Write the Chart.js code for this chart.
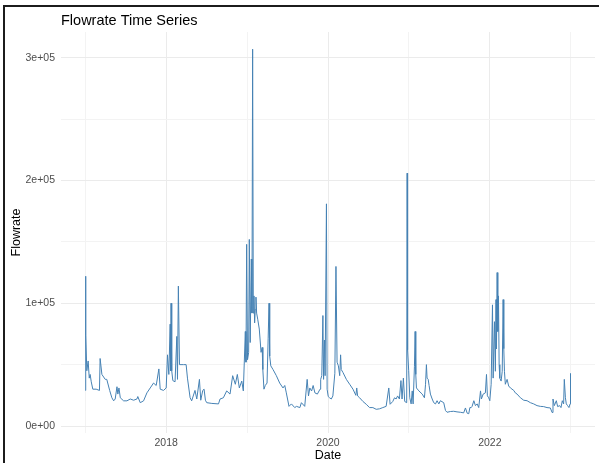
<!DOCTYPE html>
<html>
<head>
<meta charset="utf-8">
<title>Flowrate Time Series</title>
<script src="https://cdn.jsdelivr.net/npm/chart.js@4.4.0/dist/chart.umd.min.js"></script>
<style>
  html, body { margin: 0; padding: 0; background: #fff; }
  #wrap { position: relative; width: 599px; height: 463px; overflow: hidden; }
  #grafico { display: block; }
  #marco { position: absolute; left: 3px; top: 5px; right: 0; bottom: 0;
           border-left: 2px solid #1c1c1c; border-top: 2px solid #1c1c1c; pointer-events: none; }
</style>
</head>
<body>
<div id="wrap">
  <canvas id="grafico" width="599" height="463"></canvas>
  <div id="marco"></div>
</div>
<script>
// Fechas y caudal (picos y puntos de quiebre)
const dates = [
  '2017-01-01','2017-01-02','2017-01-04','2017-01-08','2017-01-14','2017-01-19','2017-01-23','2017-01-28',
  '2017-02-04','2017-02-19','2017-03-06','2017-03-09','2017-03-17','2017-04-01','2017-04-08','2017-04-21',
  '2017-05-01','2017-05-09','2017-05-16','2017-05-24','2017-05-28','2017-06-02','2017-06-08','2017-06-23',
  '2017-07-08','2017-07-23','2017-08-07','2017-08-22','2017-08-26','2017-09-06','2017-09-21','2017-10-06',
  '2017-10-21','2017-11-05','2017-11-17','2017-11-29','2017-12-05','2017-12-20',
  '2018-01-01','2018-01-07','2018-01-13','2018-01-19','2018-01-21','2018-01-23','2018-01-26','2018-01-31',
  '2018-02-10','2018-02-18','2018-02-21','2018-02-25','2018-03-02','2018-03-20','2018-04-01','2018-04-07',
  '2018-04-19','2018-04-26','2018-05-11','2018-05-19','2018-05-31','2018-06-06','2018-06-15','2018-06-21',
  '2018-06-27','2018-07-03','2018-07-26','2018-08-25','2018-09-01','2018-09-16','2018-10-01','2018-10-16',
  '2018-10-28','2018-11-09','2018-11-18','2018-11-27','2018-12-08','2018-12-15','2018-12-24','2018-12-27',
  '2018-12-30',
  '2019-01-03','2019-01-08','2019-01-11','2019-01-15','2019-01-20','2019-01-23','2019-01-26','2019-01-29',
  '2019-02-01','2019-02-04','2019-02-07','2019-02-10','2019-02-13','2019-02-18','2019-02-25','2019-03-05',
  '2019-03-10','2019-03-13','2019-03-18','2019-03-24','2019-04-01','2019-04-06','2019-04-10','2019-04-13',
  '2019-04-18','2019-04-28','2019-05-13','2019-05-28','2019-06-12','2019-06-20','2019-06-27','2019-07-09',
  '2019-07-20','2019-08-04','2019-08-12','2019-08-27','2019-09-03','2019-09-18','2019-09-29','2019-10-05',
  '2019-10-11','2019-10-19','2019-10-26','2019-11-03','2019-11-14','2019-11-26','2019-11-29','2019-12-04',
  '2019-12-09','2019-12-12','2019-12-16','2019-12-19','2019-12-25','2019-12-28',
  '2020-01-02','2020-01-08','2020-01-16','2020-01-23','2020-02-01','2020-02-06','2020-02-11','2020-02-17',
  '2020-02-23','2020-02-27','2020-03-01','2020-03-09','2020-03-24','2020-04-08','2020-04-23','2020-05-06',
  '2020-05-10','2020-05-14','2020-05-23','2020-06-07','2020-06-22','2020-07-07','2020-07-22','2020-08-06',
  '2020-08-21','2020-09-05','2020-09-20','2020-10-02','2020-10-08','2020-10-20','2020-10-28','2020-11-04',
  '2020-11-11','2020-11-19','2020-11-26','2020-12-01','2020-12-07','2020-12-13','2020-12-22','2020-12-24',
  '2020-12-26','2020-12-31',
  '2021-01-05','2021-01-11','2021-01-16','2021-01-20','2021-01-26','2021-01-29','2021-02-01','2021-02-04',
  '2021-02-15','2021-03-02','2021-03-12','2021-03-17','2021-03-21','2021-03-24','2021-03-29','2021-04-02',
  '2021-04-08','2021-04-16','2021-04-23','2021-05-01','2021-05-08','2021-05-16','2021-05-23','2021-06-07',
  '2021-06-15','2021-06-22','2021-07-07','2021-07-22','2021-08-06','2021-08-21','2021-09-05','2021-09-13',
  '2021-09-21','2021-09-28','2021-10-03','2021-10-09','2021-10-13','2021-10-21','2021-10-28','2021-11-05',
  '2021-11-12','2021-11-20','2021-11-24','2021-12-02','2021-12-12','2021-12-17','2021-12-21','2021-12-27',
  '2022-01-01','2022-01-07','2022-01-13','2022-01-16','2022-01-22','2022-01-26','2022-01-29','2022-01-31',
  '2022-02-03','2022-02-06','2022-02-09','2022-02-12','2022-02-15','2022-02-21','2022-02-26','2022-03-02',
  '2022-03-05','2022-03-08','2022-03-12','2022-03-20','2022-03-27','2022-04-04','2022-04-19','2022-04-26',
  '2022-05-04','2022-05-19','2022-06-03','2022-06-18','2022-07-03','2022-07-18','2022-08-02','2022-08-17',
  '2022-09-01','2022-09-16','2022-10-01','2022-10-09','2022-10-13','2022-10-19','2022-10-28','2022-11-03',
  '2022-11-12','2022-11-18','2022-11-24','2022-11-30','2022-12-03','2022-12-08','2022-12-12','2022-12-18',
  '2022-12-24','2022-12-29','2022-12-31'
];

const flowrate = [
  29000,122000,74000,45000,53000,39000,42000,36000,
  30000,30000,29000,55000,42000,38000,38000,29000,
  23000,20500,22000,32000,26000,31000,23000,20500,
  20500,22000,21000,22000,24000,19000,20500,27000,
  31000,35000,33000,46500,30000,29000,
  31000,58000,42000,83000,45000,100000,45000,37000,
  36000,73000,38000,114000,50000,50000,50000,39000,
  23000,20500,29000,22000,38000,21000,29000,30000,
  21000,19000,18400,18000,22000,23000,28600,26000,
  41000,34000,42000,31000,36600,28600,77000,52000,
  148000,
  54000,60000,152000,68000,136000,92000,307000,92000,
  106000,84000,95000,105000,92000,87000,79000,60000,
  64000,46000,30000,33000,35000,71000,100000,57000,
  49000,46000,41000,35000,31000,33000,27000,16000,
  18000,15000,16000,15000,19000,16000,38000,24500,
  31000,28500,33000,27000,26000,30000,38000,41000,
  90000,38000,70000,41000,181000,30000,
  24000,23000,22000,24500,43000,130000,52000,49000,
  41000,58000,46000,43500,38000,34000,30000,25000,
  31000,24500,23000,20000,17700,15000,15000,13600,
  14000,15000,16000,31000,17700,20000,23000,22000,
  24500,22000,37000,22000,39000,20000,19000,206000,
  62000,45000,
  23000,18000,28600,18000,48700,77000,42000,31000,
  28600,26000,23000,34000,50000,39000,38000,33000,
  26000,22000,19000,18000,20600,18000,20600,19000,
  12600,11200,11800,12000,11500,11200,10700,14700,
  10400,10000,15000,15000,16000,20600,16600,18000,
  15000,28600,22000,26000,27000,42000,24600,23000,
  20600,34000,98700,39000,85000,44600,103000,63000,
  125000,77000,106000,50000,39000,36600,44600,103000,
  63000,44600,34000,38000,32600,31000,29000,27000,
  26000,23000,21000,20600,19000,18000,16600,16000,
  15800,15000,14700,11000,22000,16600,20600,15800,
  16600,15000,20600,18000,38000,23000,18000,16600,
  15000,18000,43000
];

// Ejes: lineas de cuadricula y etiquetas
const xGridYears = [2017, 2018, 2019, 2020, 2021, 2022, 2023];
const xTickYears = [2018, 2020, 2022];
const yGridValues = [0, 50000, 100000, 150000, 200000, 250000, 300000];
const yTickValues = [0, 100000, 200000, 300000];
const yTickLabels = ['0e+00', '1e+05', '2e+05', '3e+05'];

// Convierte 'YYYY-MM-DD' en año decimal para la escala lineal
function toDecimalYear(str) {
    const [y, m, d] = str.split('-').map(Number);
    const t = Date.UTC(y, m - 1, d);
    const start = Date.UTC(y, 0, 1);
    const end = Date.UTC(y + 1, 0, 1);
    return y + (t - start) / (end - start);
}

const puntos = dates.map((d, i) => ({ x: toDecimalYear(d), y: flowrate[i] }));

const gridMajor = '#ebebeb';
const gridMinor = '#f3f3f3';
Chart.defaults.font.family = '"Liberation Sans", Arial, Helvetica, sans-serif';

new Chart(document.getElementById('grafico').getContext('2d'), {
    type: 'line',
    data: {
        datasets: [{
            label: 'Flowrate',
            data: puntos,
            borderColor: '#4682b4',
            borderWidth: 1,
            pointRadius: 0,
            tension: 0,
            fill: false
        }]
    },
    options: {
        responsive: false,
        animation: false,
        devicePixelRatio: 1,
        layout: { padding: { left: 6, top: 7, right: 4, bottom: 0 } },
        plugins: {
            legend: { display: false },
            tooltip: { enabled: false },
            title: {
                display: true,
                text: 'Flowrate Time Series',
                align: 'start',
                fullSize: false,
                color: '#000',
                font: { size: 14.5, weight: 'normal' },
                padding: { top: 4.8, bottom: 2.8 }
            }
        },
        scales: {
            x: {
                type: 'linear',
                min: 2016.7,
                max: 2023.3,
                afterBuildTicks(scale) { scale.ticks = xGridYears.map(v => ({ value: v })); },
                afterFit(scale) { scale.height = 30; },
                border: { display: false },
                grid: {
                    drawTicks: false,
                    lineWidth: 1,
                    color: ctx => xTickYears.includes(ctx.tick && ctx.tick.value) ? gridMajor : gridMinor
                },
                ticks: {
                    autoSkip: false,
                    maxRotation: 0,
                    padding: 4,
                    color: '#4d4d4d',
                    font: { size: 10.5 },
                    callback: v => xTickYears.includes(v) ? String(v) : ''
                },
                title: {
                    display: true,
                    text: 'Date',
                    color: '#000',
                    font: { size: 12.5 },
                    padding: 0
                }
            },
            y: {
                type: 'linear',
                min: -5700,
                max: 321000,
                afterBuildTicks(scale) { scale.ticks = yGridValues.map(v => ({ value: v })); },
                afterFit(scale) { scale.width = 55; },
                border: { display: false },
                grid: {
                    drawTicks: false,
                    lineWidth: 1,
                    color: ctx => yTickValues.includes(ctx.tick && ctx.tick.value) ? gridMajor : gridMinor
                },
                ticks: {
                    autoSkip: false,
                    padding: 6,
                    color: '#4d4d4d',
                    font: { size: 10.5 },
                    callback: v => {
                        const i = yTickValues.indexOf(v);
                        return i >= 0 ? yTickLabels[i] : '';
                    }
                },
                title: {
                    display: true,
                    text: 'Flowrate',
                    color: '#000',
                    font: { size: 12.5 },
                    padding: { top: 3, bottom: 0 }
                }
            }
        }
    }
});
</script>
</body>
</html>
